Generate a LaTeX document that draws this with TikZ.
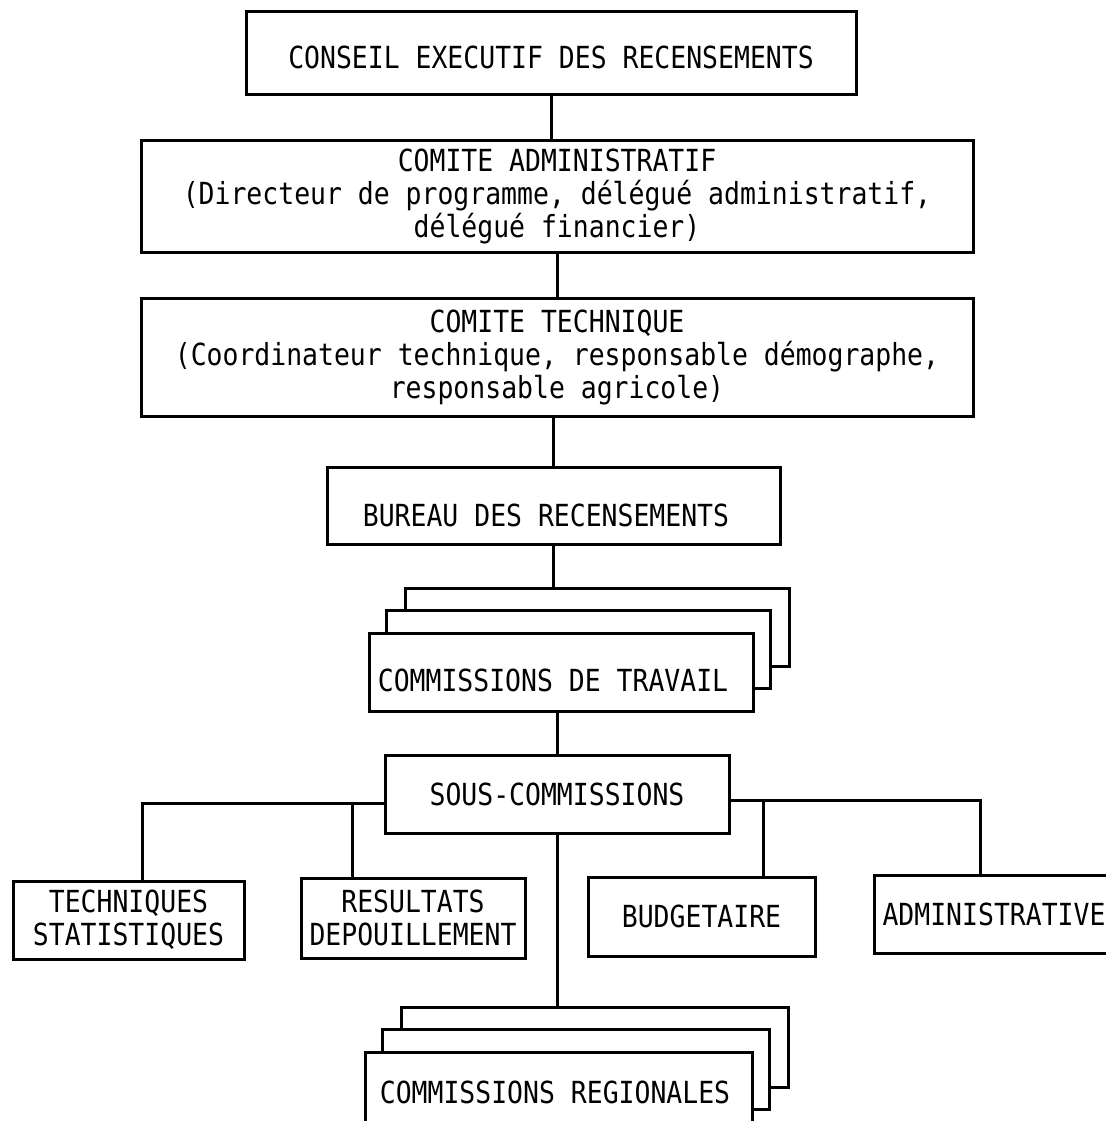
\documentclass[tikz,border=0pt]{standalone}
\usepackage{fontspec}
\setmonofont[FakeStretch=0.87]{DejaVu Sans Mono}
\usepackage{tikz}
\usetikzlibrary{calc,shadows,backgrounds}

\begin{document}
\begin{tikzpicture}[
      boite/.style={rectangle,draw,fill=white,line width=3pt,align=center,inner sep=2pt,
        font=\ttfamily\fontsize{30.4}{33}\selectfont},
      pile/.style={copy shadow={shadow xshift=36pt,shadow yshift=45pt,fill=white,draw,line width=3pt},
        copy shadow={shadow xshift=17pt,shadow yshift=23pt,fill=white,draw,line width=3pt}},
      lien/.style={line width=3pt}]
    \useasboundingbox (0,0) rectangle (1105pt,-1121pt);

    \node[boite,minimum width=610pt,minimum height=83pt](n1) at (551pt,-53.5pt){\raisebox{-15pt}[0pt][0pt]{CONSEIL EXECUTIF DES RECENSEMENTS}};
    \node[boite,node distance=142.5pt,below of=n1,xshift=6pt,minimum width=832pt,minimum height=112pt](n2){COMITE ADMINISTRATIF\\(Directeur de programme, délégué administratif,\\délégué financier)};
    \node[boite,node distance=161pt,below of=n2,minimum width=832pt,minimum height=118pt](n3){COMITE TECHNIQUE\\(Coordinateur technique, responsable démographe,\\responsable agricole)};
    \node[boite,node distance=148.5pt,below of=n3,xshift=-3.5pt,minimum width=453pt,minimum height=77pt](n4){\raisebox{-21pt}[0pt][0pt]{\hspace*{-15pt}BUREAU DES RECENSEMENTS}};
    \node[boite,pile,node distance=166.5pt,below of=n4,xshift=7.5pt,minimum width=384pt,minimum height=78pt](n5){\raisebox{-19pt}[0pt][0pt]{\hspace*{-16pt}COMMISSIONS DE TRAVAIL}};
    \node[boite,node distance=122pt,below of=n5,xshift=-4pt,minimum width=344pt,minimum height=78pt](n6){SOUS-COMMISSIONS};

    \node[boite,minimum width=231pt,minimum height=78pt](n7) at (128.5pt,-920pt){TECHNIQUES\\STATISTIQUES};
    \node[boite,minimum width=224pt,minimum height=80pt](n8) at (413pt,-918pt){RESULTATS\\DEPOUILLEMENT};
    \node[boite,minimum width=227pt,minimum height=79pt](n9) at (701.5pt,-916.5pt){BUDGETAIRE};
    \node[boite,minimum width=240pt,minimum height=78pt](n10) at (994pt,-914pt){ADMINISTRATIVE};

    \node[boite,pile,node distance=298pt,below of=n6,xshift=1.5pt,minimum width=387pt,minimum height=80pt](n11){\hspace*{-7pt}COMMISSIONS REGIONALES};

    \begin{scope}[on background layer]
    \draw[lien] (n1.south) -- (n1.south |- n2.north);
    \draw[lien] (n2.south) -- (n3.north);
    \draw[lien] (n4.north) -- (n4.north |- n3.south);
    \draw[lien] (n4.south) -- (n4.south |- n5.north);
    \draw[lien] (n6.north) -- (n6.north |- n5.south);
    \draw[lien] ([yshift=-9pt]n6.west) -| ([xshift=14pt]n7.north);
    \draw[lien] ([yshift=-9pt]n6.west) -| ([xshift=-61pt]n8.north);
    \draw[lien] ([yshift=-6pt]n6.east) -| ([xshift=61.5pt]n9.north);
    \draw[lien] ([yshift=-6pt]n6.east) -| ([xshift=-14pt]n10.north);
    \draw[lien] (n6.south) -- (n6.south |- n11.north);
    \end{scope}

\end{tikzpicture}
\end{document}
